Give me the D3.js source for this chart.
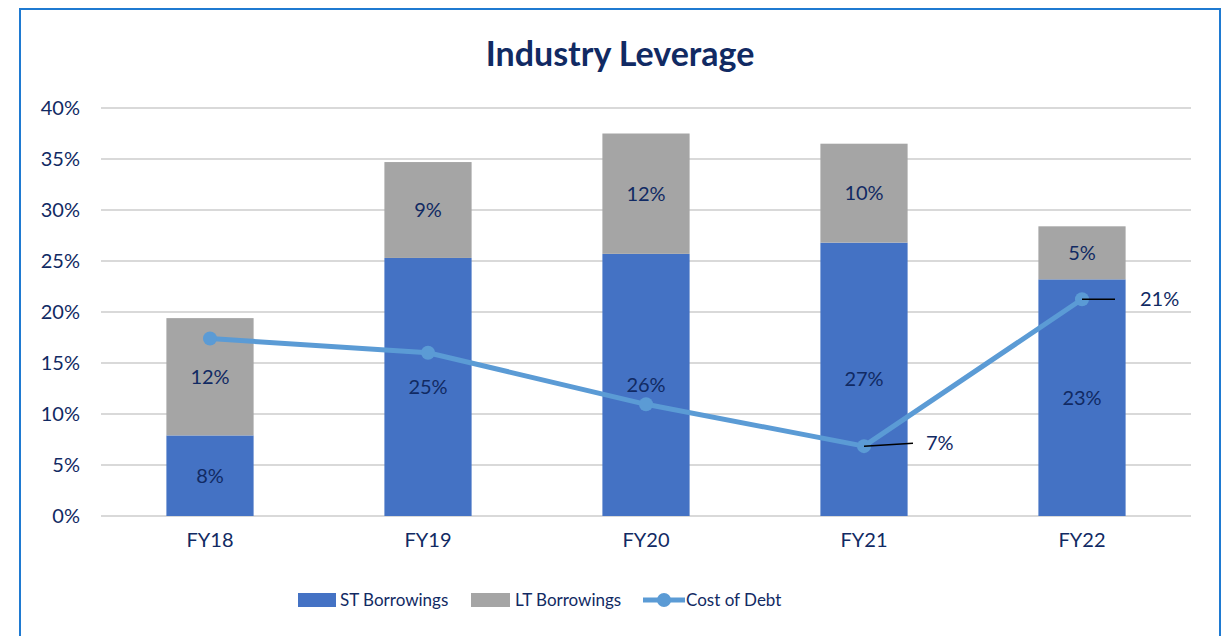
<!DOCTYPE html>
<html><head><meta charset="utf-8">
<script src="https://cdn.jsdelivr.net/npm/d3@7"></script>
<style>body{margin:0;background:#fff;font-family:Lato,"Open Sans",sans-serif;}</style>
</head><body>
<svg id="c" width="1225" height="636"></svg>
<script>
const categories = ["FY18","FY19","FY20","FY21","FY22"];
const stBorrowings = [7.9, 25.3, 25.7, 26.8, 23.2];
const ltBorrowings = [11.5, 9.4, 11.8, 9.7, 5.2];
const costOfDebt = [17.4, 16.0, 10.95, 6.85, 21.25];
const costLabelShown = [false, false, false, true, true];
const yTicks = [0,5,10,15,20,25,30,35,40];

const svg = d3.select("#c");
const navy = "#112a63";
const stColor = "#4472c4", ltColor = "#a5a5a5", lineColor = "#5b9bd5";
const fs = 20;

// frame
svg.append("rect").attr("x",20).attr("y",9).attr("width",1200).attr("height",640)
  .attr("fill","#fff").attr("stroke","#1f7ad1").attr("stroke-width",2);

svg.append("text").attr("x",620).attr("y",66).attr("text-anchor","middle")
  .attr("font-size",34).attr("font-weight","bold").attr("fill",navy).text("Industry Leverage");

const x = d3.scaleBand().domain(categories).range([101,1191]).padding(0);
const y = d3.scaleLinear().domain([0,40]).range([516,108]);
const bw = x.bandwidth()*0.4;
const cx = c => x(c) + x.bandwidth()/2;

// gridlines
svg.append("g").selectAll("line").data(yTicks).join("line")
  .attr("x1",101).attr("x2",1191).attr("y1",d=>y(d)).attr("y2",d=>y(d))
  .attr("stroke","#d9d9d9").attr("stroke-width",2);

// y axis labels
const yAxis = d3.axisLeft(y).tickValues(yTicks).tickFormat(d=>d+"%").tickSize(0).tickPadding(0);
const yg = svg.append("g").attr("transform","translate(80,0)").call(yAxis);
yg.select(".domain").remove();
yg.selectAll("text").attr("font-size",fs).attr("fill",navy).attr("font-family","Lato, sans-serif");

// x axis labels
const xAxis = d3.axisBottom(x).tickSize(0).tickPadding(0);
const xg = svg.append("g").attr("transform","translate(0,533)").call(xAxis);
xg.select(".domain").remove();
xg.selectAll("text").attr("font-size",fs).attr("fill",navy).attr("font-family","Lato, sans-serif");

// bars
const bars = svg.append("g");
categories.forEach((c,i)=>{
  const st = stBorrowings[i], lt = ltBorrowings[i];
  bars.append("rect").attr("x",cx(c)-bw/2).attr("width",bw)
    .attr("y",y(st)).attr("height",y(0)-y(st)).attr("fill",stColor);
  bars.append("rect").attr("x",cx(c)-bw/2).attr("width",bw)
    .attr("y",y(st+lt)).attr("height",y(st)-y(st+lt)).attr("fill",ltColor);
  bars.append("text").attr("x",cx(c)).attr("y",(y(0)+y(st))/2).attr("dy","0.35em")
    .attr("text-anchor","middle").attr("font-size",fs).attr("fill",navy).text(Math.round(st)+"%");
  bars.append("text").attr("x",cx(c)).attr("y",(y(st)+y(st+lt))/2).attr("dy","0.35em")
    .attr("text-anchor","middle").attr("font-size",fs).attr("fill",navy).text(Math.round(lt)+"%");
});

// line
const line = d3.line().x((d,i)=>cx(categories[i])).y(d=>y(d));
svg.append("path").datum(costOfDebt).attr("d",line).attr("fill","none")
  .attr("stroke",lineColor).attr("stroke-width",5).attr("stroke-linejoin","round");
svg.append("g").selectAll("circle").data(costOfDebt).join("circle")
  .attr("cx",(d,i)=>cx(categories[i])).attr("cy",d=>y(d)).attr("r",7).attr("fill",lineColor);

// line labels with leader lines
const leaderOffsets = {3:{dx:49,dy:-3,tx:62}, 4:{dx:33,dy:0,tx:58}};
costOfDebt.forEach((v,i)=>{
  if(!costLabelShown[i]) return;
  const o = leaderOffsets[i];
  const px = cx(categories[i]), py = y(v);
  svg.append("line").attr("x1",px).attr("y1",py).attr("x2",px+o.dx).attr("y2",py+o.dy)
    .attr("stroke","#000").attr("stroke-width",1.5);
  svg.append("text").attr("x",px+o.tx).attr("y",py+o.dy).attr("dy","0.35em")
    .attr("font-size",fs).attr("fill",navy).text(Math.round(v)+"%");
});

// legend
const lg = svg.append("g").attr("font-size",17).attr("fill",navy);
lg.append("rect").attr("x",298).attr("y",593).attr("width",38).attr("height",14).attr("fill",stColor);
lg.append("text").attr("x",340).attr("y",600).attr("dy","0.35em").text("ST Borrowings");
lg.append("rect").attr("x",471).attr("y",593).attr("width",39).attr("height",14).attr("fill",ltColor);
lg.append("text").attr("x",515).attr("y",600).attr("dy","0.35em").text("LT Borrowings");
lg.append("line").attr("x1",643).attr("x2",685).attr("y1",600).attr("y2",600).attr("stroke",lineColor).attr("stroke-width",5);
lg.append("circle").attr("cx",664).attr("cy",600).attr("r",7).attr("fill",lineColor);
lg.append("text").attr("x",686).attr("y",600).attr("dy","0.35em").text("Cost of Debt");
</script>
</body></html>
